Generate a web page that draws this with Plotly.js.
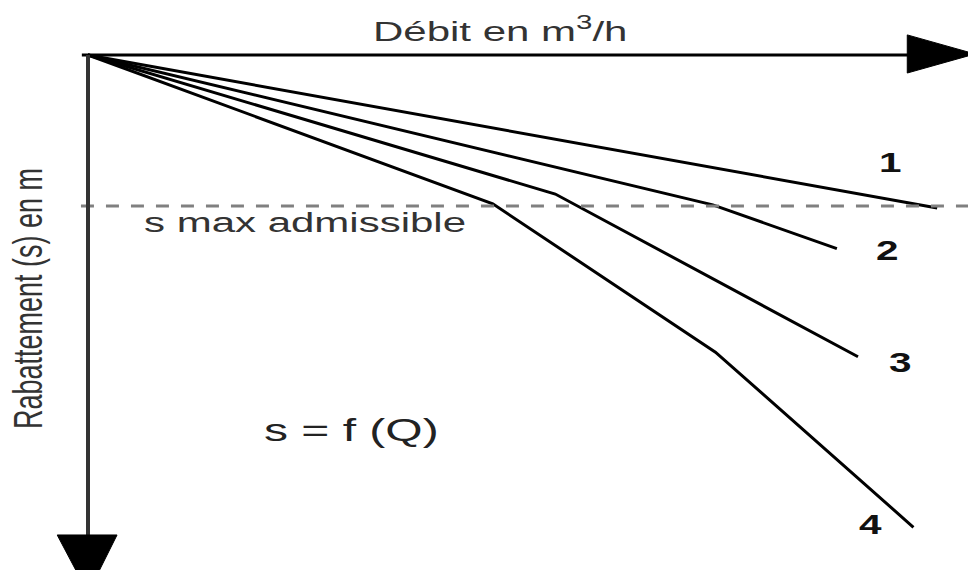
<!DOCTYPE html>
<html>
<head>
<meta charset="utf-8">
<script src="https://cdn.plot.ly/plotly-3.0.1.min.js"></script>
<style>
  body { margin: 0; background: #fff; }
  #graph { width: 968px; height: 570px; }
  /* the reference picture is stretched sideways, so stretch the texts too */
  .annotation-text { transform-box: fill-box; transform-origin: center; transform: scaleX(1.5); }
  .annotation[data-index="1"] .annotation-text { transform: scaleY(1.5); }
</style>
</head>
<body>
<div id="graph"></div>
<script>
// debit Q (m3/h) and rabattement s (m) for each pumping test curve
const curveNames = ['1', '2', '3', '4']
const debit1 = [0, 96.5]
const rab1 = [0, 2.97]
const debit2 = [0, 71.0, 85.1]
const rab2 = [0, 2.91, 3.76]
const debit3 = [0, 53.1, 87.5]
const rab3 = [0, 2.70, 5.86]
const debit4 = [0, 46.0, 71.3, 93.8]
const rab4 = [0, 2.89, 5.77, 9.17]
const sMax = 2.93

const debits = [debit1, debit2, debit3, debit4]
const rabs = [rab1, rab2, rab3, rab4]

const font = 'Liberation Sans, Arial, sans-serif'

const graphData = debits.map((q, i) => ({
    x: q,
    y: rabs[i],
    mode: 'lines',
    type: 'scatter',
    name: curveNames[i],
    line: { color: '#000', width: 3 },
    hoverinfo: 'skip'
}))

// where each curve number sits, relative to the end of its curve
const labelShift = [[-47, 45], [51, -2], [42, -6], [-43, 2]]

const annotations = [
    {
        x: 46.8, y: -0.5, text: 'Débit en m<sup>3</sup>/h', showarrow: false,
        font: { family: font, size: 28, color: '#333' }
    },
    {
        x: -6.8, y: 4.72, text: 'Rabattement (s) en m', showarrow: false, textangle: -90,
        font: { family: font, size: 27, color: '#333' }
    },
    {
        x: 24.7, y: sMax, yshift: -17, text: 's max admissible', showarrow: false,
        font: { family: font, size: 28, color: '#333' }
    },
    {
        x: 29.9, y: 7.28, text: 's = f (Q)', showarrow: false,
        font: { family: font, size: 32, color: '#222' }
    }
]
curveNames.forEach((n, i) => {
    const q = debits[i], s = rabs[i]
    annotations.push({
        x: q[q.length - 1], y: s[s.length - 1],
        xshift: labelShift[i][0], yshift: labelShift[i][1],
        text: n, showarrow: false,
        font: { family: font, size: 27, color: '#111', weight: 'bold' }
    })
})

const shapes = [
    // s max admissible
    { type: 'line', x0: -0.8, x1: 100, y0: sMax, y1: sMax,
      line: { color: '#808080', width: 3, dash: '13px,12px' } },
    // debit axis with arrow
    { type: 'line', x0: -0.7, x1: 93.2, y0: 0, y1: 0, line: { color: '#000', width: 3 } },
    { type: 'path', path: 'M 93.1 -0.39 L 93.1 0.35 L 100.8 -0.02 Z',
      fillcolor: '#000', line: { color: '#000', width: 1 } },
    // rabattement axis with arrow
    { type: 'line', x0: 0, x1: 0, y0: 0, y1: 9.34, line: { color: '#333', width: 4 } },
    { type: 'path', path: 'M -3.5 9.32 L 3.3 9.32 L 0 10.45 Z',
      fillcolor: '#000', line: { color: '#000', width: 1 } }
]

const layout = {
    width: 968,
    height: 570,
    margin: { l: 0, r: 0, t: 0, b: 0 },
    paper_bgcolor: '#fff',
    plot_bgcolor: '#fff',
    showlegend: false,
    xaxis: { range: [-10, 100], visible: false, fixedrange: true },
    yaxis: { range: [10, -1.068], visible: false, fixedrange: true },
    annotations: annotations,
    shapes: shapes
}

Plotly.newPlot('graph', graphData, layout, { displayModeBar: false, staticPlot: true })
</script>
</body>
</html>
